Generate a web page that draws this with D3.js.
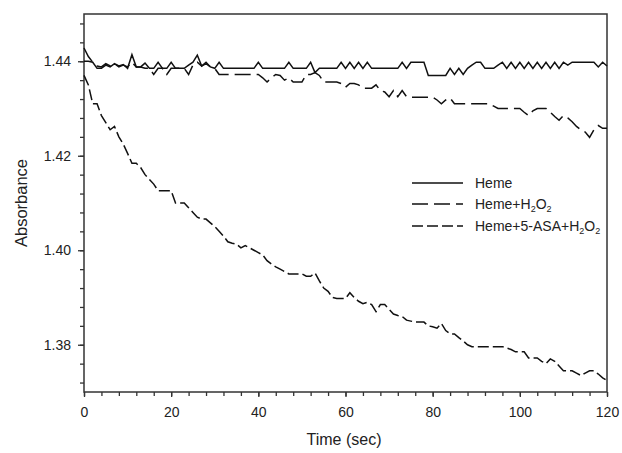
<!DOCTYPE html>
<html>
<head>
<meta charset="utf-8">
<script src="https://cdn.jsdelivr.net/npm/d3@7"></script>
<style>
  body { margin: 0; background: #fff; }
  text { font-family: "Liberation Sans", Arial, sans-serif; fill: #222; }
</style>
</head>
<body>
<div id="chart"></div>
<script>
const width = 622,
    height = 453
const margin = { top: 14, right: 15, bottom: 61, left: 84 }

// time in seconds, one reading per second
const times = d3.range(0, 121)

const heme = [
    1.4400, 1.4400, 1.4398, 1.4385, 1.4385, 1.4392, 1.4388, 1.4395, 1.4390, 1.4393,
    1.4385, 1.4414, 1.4388, 1.4388, 1.4396, 1.4385, 1.4385, 1.4398, 1.4385, 1.4385,
    1.4398, 1.4385, 1.4385, 1.4385, 1.4392, 1.4398, 1.4413, 1.4390, 1.4398, 1.4388,
    1.4385, 1.4398, 1.4385, 1.4385, 1.4385, 1.4385, 1.4385, 1.4385, 1.4385, 1.4385,
    1.4398, 1.4385, 1.4385, 1.4385, 1.4385, 1.4385, 1.4385, 1.4398, 1.4385, 1.4385,
    1.4385, 1.4385, 1.4398, 1.4376, 1.4385, 1.4385, 1.4385, 1.4385, 1.4385, 1.4398,
    1.4385, 1.4398, 1.4385, 1.4398, 1.4385, 1.4398, 1.4385, 1.4385, 1.4385, 1.4385,
    1.4385, 1.4385, 1.4385, 1.4398, 1.4385, 1.4398, 1.4398, 1.4398, 1.4398, 1.4370,
    1.4370, 1.4370, 1.4370, 1.4370, 1.4385, 1.4372, 1.4385, 1.4372, 1.4385, 1.4392,
    1.4398, 1.4398, 1.4385, 1.4385, 1.4385, 1.4392, 1.4398, 1.4385, 1.4398, 1.4385,
    1.4398, 1.4385, 1.4398, 1.4385, 1.4398, 1.4385, 1.4398, 1.4385, 1.4398, 1.4385,
    1.4398, 1.4392, 1.4398, 1.4398, 1.4398, 1.4398, 1.4398, 1.4398, 1.4388, 1.4398,
    1.4390
]

const hemeH2O2 = [
    1.4428, 1.4410, 1.4398, 1.4390, 1.4388, 1.4395, 1.4390, 1.4395, 1.4388, 1.4392,
    1.4388, 1.4398, 1.4388, 1.4388, 1.4385, 1.4385, 1.4372, 1.4385, 1.4385, 1.4372,
    1.4385, 1.4385, 1.4385, 1.4385, 1.4372, 1.4392, 1.4398, 1.4390, 1.4395, 1.4388,
    1.4385, 1.4372, 1.4372, 1.4372, 1.4372, 1.4372, 1.4372, 1.4372, 1.4372, 1.4372,
    1.4372, 1.4365, 1.4356, 1.4365, 1.4372, 1.4370, 1.4360, 1.4365, 1.4356, 1.4356,
    1.4356, 1.4372, 1.4372, 1.4376, 1.4370, 1.4356, 1.4356, 1.4356, 1.4356, 1.4353,
    1.4345, 1.4353, 1.4353, 1.4350, 1.4343, 1.4343, 1.4343, 1.4350, 1.4338, 1.4335,
    1.4325, 1.4338, 1.4325, 1.4338, 1.4325, 1.4324, 1.4324, 1.4324, 1.4324, 1.4324,
    1.4324, 1.4318, 1.4310, 1.4318, 1.4322, 1.4310, 1.4310, 1.4310, 1.4310, 1.4310,
    1.4310, 1.4310, 1.4310, 1.4310, 1.4305, 1.4300, 1.4300, 1.4300, 1.4300, 1.4300,
    1.4300, 1.4292, 1.4285, 1.4295, 1.4300, 1.4300, 1.4300, 1.4292, 1.4283, 1.4275,
    1.4285, 1.4280, 1.4272, 1.4262, 1.4255, 1.4250, 1.4239, 1.4255, 1.4264, 1.4258,
    1.4258
]

const hemeAsaH2O2 = [
    1.4370, 1.4350, 1.4310, 1.4310, 1.4285, 1.4270, 1.4255, 1.4262, 1.4240, 1.4225,
    1.4205, 1.4184, 1.4184, 1.4175, 1.4160, 1.4150, 1.4140, 1.4126, 1.4126, 1.4126,
    1.4126, 1.4100, 1.4100, 1.4100, 1.4090, 1.4080, 1.4070, 1.4066, 1.4066, 1.4058,
    1.4050, 1.4040, 1.4030, 1.4018, 1.4015, 1.4013, 1.4005, 1.4010, 1.4005, 1.4000,
    1.3995, 1.3990, 1.3978, 1.3971, 1.3965, 1.3960, 1.3955, 1.3950, 1.3950, 1.3950,
    1.3950, 1.3945, 1.3945, 1.3952, 1.3935, 1.3920, 1.3913, 1.3900, 1.3898, 1.3898,
    1.3898, 1.3910, 1.3900, 1.3892, 1.3887, 1.3890, 1.3885, 1.3870, 1.3885, 1.3885,
    1.3875, 1.3865, 1.3862, 1.3860, 1.3852, 1.3850, 1.3848, 1.3848, 1.3848, 1.3840,
    1.3838, 1.3835, 1.3845, 1.3830, 1.3823, 1.3823, 1.3815, 1.3808, 1.3800, 1.3796,
    1.3796, 1.3796, 1.3796, 1.3796, 1.3796, 1.3796, 1.3796, 1.3793, 1.3790, 1.3785,
    1.3785, 1.3785, 1.3772, 1.3772, 1.3772, 1.3765, 1.3760, 1.3770, 1.3765, 1.3755,
    1.3745, 1.3745, 1.3745, 1.3740, 1.3735, 1.3740, 1.3745, 1.3745, 1.3738, 1.3730,
    1.3724
]

const xTicks = [0, 20, 40, 60, 80, 100, 120]
const yTicks = [1.38, 1.40, 1.42, 1.44]

const series = [
    { name: "Heme", values: heme, dash: null },
    { name: "Heme+H2O2", values: hemeH2O2, dash: "16,6" },
    { name: "Heme+5-ASA+H2O2", values: hemeAsaH2O2, dash: "11,4" }
]

const svg = d3.select("#chart")
    .append("svg")
        .attr("width", width)
        .attr("height", height)

const x = d3.scaleLinear()
    .domain([0, 120])
    .range([margin.left, width - margin.right])

const y = d3.scaleLinear()
    .domain([1.37, 1.45])
    .range([height - margin.bottom, margin.top])

const axisColor = "#333"

// minor ticks
svg.append("g")
    .attr("transform", `translate(0,${height - margin.bottom})`)
    .call(d3.axisBottom(x).tickValues(d3.range(0, 121, 4)).tickSize(4).tickFormat(""))
svg.append("g")
    .attr("transform", `translate(${margin.left},0)`)
    .call(d3.axisLeft(y).tickValues(d3.range(1.372, 1.45, 0.004)).tickSize(4).tickFormat(""))

// major ticks
svg.append("g")
    .attr("class", "x-axis")
    .attr("transform", `translate(0,${height - margin.bottom})`)
    .call(d3.axisBottom(x).tickValues(xTicks).tickSize(5).tickPadding(10).tickFormat(d3.format("d")))
svg.append("g")
    .attr("class", "y-axis")
    .attr("transform", `translate(${margin.left},0)`)
    .call(d3.axisLeft(y).tickValues(yTicks).tickSize(6).tickPadding(7).tickFormat(d3.format(".2f")))

svg.selectAll(".domain").remove()
svg.selectAll(".tick line").attr("stroke", axisColor).attr("stroke-width", 1.3)
svg.selectAll(".tick text")
    .attr("font-size", 14)
    .attr("font-family", "Liberation Sans, Arial, sans-serif")
    .attr("fill", "#222")

// frame
svg.append("rect")
    .attr("x", margin.left)
    .attr("y", margin.top)
    .attr("width", width - margin.left - margin.right)
    .attr("height", height - margin.top - margin.bottom)
    .attr("fill", "none")
    .attr("stroke", axisColor)
    .attr("stroke-width", 1.5)

const line = d3.line()
    .x((d, i) => x(times[i]))
    .y(d => y(d))

svg.selectAll(".series")
    .data(series)
    .enter()
    .append("path")
        .attr("class", "series")
        .attr("d", d => line(d.values))
        .attr("fill", "none")
        .attr("stroke", "#111")
        .attr("stroke-width", 1.5)
        .attr("stroke-dasharray", d => d.dash)

// axis titles
svg.append("text")
    .attr("x", 344)
    .attr("y", 445)
    .attr("text-anchor", "middle")
    .attr("font-size", 16)
    .text("Time (sec)")

svg.append("text")
    .attr("transform", `translate(27,${(margin.top + height - margin.bottom) / 2}) rotate(-90)`)
    .attr("text-anchor", "middle")
    .attr("font-size", 16.5)
    .text("Absorbance")

// legend
const legend = svg.append("g")
const rowY = [183, 204, 226]

series.forEach((s, i) => {
    legend.append("line")
        .attr("x1", 412)
        .attr("x2", 463)
        .attr("y1", rowY[i])
        .attr("y2", rowY[i])
        .attr("stroke", "#111")
        .attr("stroke-width", 1.5)
        .attr("stroke-dasharray", s.dash)

    const t = legend.append("text")
        .attr("x", 475)
        .attr("y", rowY[i] + 5)
        .attr("font-size", 14)

    // split out the H2O2 part to get subscripts
    const parts = s.name.split("H2O2")
    t.append("tspan").text(parts[0])
    if (parts.length > 1) {
        t.append("tspan").text("H")
        t.append("tspan").text("2").attr("font-size", 9).attr("dy", 3)
        t.append("tspan").text("O").attr("dy", -3)
        t.append("tspan").text("2").attr("font-size", 9).attr("dy", 3)
    }
})
</script>
</body>
</html>
